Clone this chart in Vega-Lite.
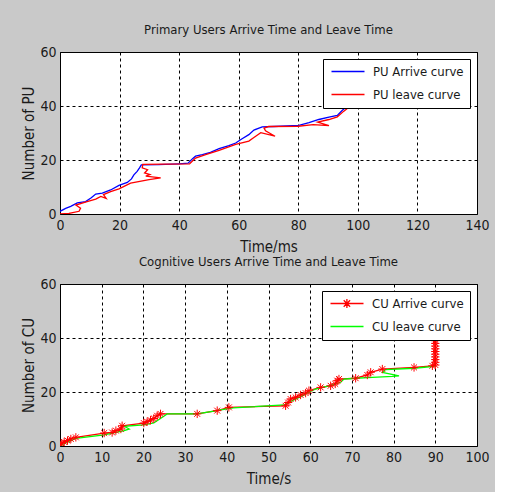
{
  "$schema": "https://vega.github.io/schema/vega-lite/v6.json",
  "background": "#c9c9c9",
  "padding": {"left": 21, "top": 23, "right": 5, "bottom": 5},
  "config": {
    "font": "Liberation Sans Narrow, DejaVu Sans Condensed, Liberation Sans, sans-serif",
    "view": {"fill": "white", "stroke": "black", "strokeWidth": 1},
    "axis": {
      "grid": true, "gridColor": "black", "gridDash": [3, 3], "gridOpacity": 1, "gridWidth": 1,
      "domain": false, "ticks": false, "tickSize": 0,
      "labelFontSize": 14, "labelColor": "#1a1a1a", "labelPadding": 4,
      "labelFlush": false, "labelOverlap": false,
      "titleFontSize": 15, "titleFontWeight": "normal", "titleColor": "#1a1a1a", "titlePadding": 5
    },
    "axisX": {"titlePadding": 7},
    "axisY": {"titlePadding": 3},
    "title": {"fontSize": 13, "fontWeight": "normal", "color": "#1a1a1a", "offset": 8},
    "legend": {
      "orient": "top-right", "offset": 7, "fillColor": "white", "strokeColor": "black",
      "padding": 6, "labelFontSize": 13, "labelColor": "#1a1a1a",
      "symbolType": "M-1,0L7.25,0", "symbolSize": 64, "symbolStrokeWidth": 1.3,
      "symbolOffset": 0, "labelOffset": 31, "rowPadding": 9
    },
    "concat": {"spacing": 0}
  },
  "resolve": {"scale": {"color": "independent"}, "legend": {"color": "independent"}},
  "datasets": {
    "pu": [
      {"s": "PU Arrive curve", "i": 0, "t": 0, "n": 1},
      {"s": "PU Arrive curve", "i": 1, "t": 1.9, "n": 2.1},
      {"s": "PU Arrive curve", "i": 2, "t": 3.6, "n": 2.8},
      {"s": "PU Arrive curve", "i": 3, "t": 5.8, "n": 4.1},
      {"s": "PU Arrive curve", "i": 4, "t": 8.6, "n": 4.6},
      {"s": "PU Arrive curve", "i": 5, "t": 10.5, "n": 6.0},
      {"s": "PU Arrive curve", "i": 6, "t": 12, "n": 7.4},
      {"s": "PU Arrive curve", "i": 7, "t": 14.2, "n": 7.7},
      {"s": "PU Arrive curve", "i": 8, "t": 17, "n": 8.9},
      {"s": "PU Arrive curve", "i": 9, "t": 19.8, "n": 10.6},
      {"s": "PU Arrive curve", "i": 10, "t": 22.6, "n": 11.7},
      {"s": "PU Arrive curve", "i": 11, "t": 24.0, "n": 13.0},
      {"s": "PU Arrive curve", "i": 12, "t": 24.8, "n": 14.5},
      {"s": "PU Arrive curve", "i": 13, "t": 25.9, "n": 15.8},
      {"s": "PU Arrive curve", "i": 14, "t": 26.7, "n": 17.1},
      {"s": "PU Arrive curve", "i": 15, "t": 27.3, "n": 18.2},
      {"s": "PU Arrive curve", "i": 16, "t": 33, "n": 18.3},
      {"s": "PU Arrive curve", "i": 17, "t": 40, "n": 18.6},
      {"s": "PU Arrive curve", "i": 18, "t": 43.0, "n": 18.8},
      {"s": "PU Arrive curve", "i": 19, "t": 44.5, "n": 20.5},
      {"s": "PU Arrive curve", "i": 20, "t": 45.5, "n": 21.4},
      {"s": "PU Arrive curve", "i": 21, "t": 47.8, "n": 22.0},
      {"s": "PU Arrive curve", "i": 22, "t": 50.5, "n": 22.8},
      {"s": "PU Arrive curve", "i": 23, "t": 53.4, "n": 24.2},
      {"s": "PU Arrive curve", "i": 24, "t": 56.7, "n": 25.3},
      {"s": "PU Arrive curve", "i": 25, "t": 59, "n": 26.3},
      {"s": "PU Arrive curve", "i": 26, "t": 61, "n": 27.8},
      {"s": "PU Arrive curve", "i": 27, "t": 63.4, "n": 29.4},
      {"s": "PU Arrive curve", "i": 28, "t": 65.1, "n": 31.1},
      {"s": "PU Arrive curve", "i": 29, "t": 67.9, "n": 32.3},
      {"s": "PU Arrive curve", "i": 30, "t": 71.8, "n": 32.4},
      {"s": "PU Arrive curve", "i": 31, "t": 80.2, "n": 32.8},
      {"s": "PU Arrive curve", "i": 32, "t": 83.6, "n": 33.8},
      {"s": "PU Arrive curve", "i": 33, "t": 86.9, "n": 35.0},
      {"s": "PU Arrive curve", "i": 34, "t": 90.3, "n": 35.9},
      {"s": "PU Arrive curve", "i": 35, "t": 93.1, "n": 36.5},
      {"s": "PU Arrive curve", "i": 36, "t": 94.8, "n": 38.4},
      {"s": "PU Arrive curve", "i": 37, "t": 95.9, "n": 39.4},
      {"s": "PU Arrive curve", "i": 38, "t": 97.5, "n": 41},
      {"s": "PU leave curve", "i": 0, "t": 0, "n": 0},
      {"s": "PU leave curve", "i": 1, "t": 3, "n": 0.2},
      {"s": "PU leave curve", "i": 2, "t": 6.4, "n": 1.0},
      {"s": "PU leave curve", "i": 3, "t": 6.9, "n": 2.1},
      {"s": "PU leave curve", "i": 4, "t": 5.3, "n": 3.3},
      {"s": "PU leave curve", "i": 5, "t": 9.1, "n": 4.6},
      {"s": "PU leave curve", "i": 6, "t": 12, "n": 5.5},
      {"s": "PU leave curve", "i": 7, "t": 13.7, "n": 6.5},
      {"s": "PU leave curve", "i": 8, "t": 15.5, "n": 5.8},
      {"s": "PU leave curve", "i": 9, "t": 14.6, "n": 7.2},
      {"s": "PU leave curve", "i": 10, "t": 17, "n": 8.3},
      {"s": "PU leave curve", "i": 11, "t": 19.8, "n": 9.3},
      {"s": "PU leave curve", "i": 12, "t": 21.5, "n": 10.2},
      {"s": "PU leave curve", "i": 13, "t": 23.7, "n": 11.4},
      {"s": "PU leave curve", "i": 14, "t": 29.9, "n": 12.7},
      {"s": "PU leave curve", "i": 15, "t": 33.8, "n": 13.4},
      {"s": "PU leave curve", "i": 16, "t": 28.8, "n": 14.0},
      {"s": "PU leave curve", "i": 17, "t": 30.2, "n": 14.6},
      {"s": "PU leave curve", "i": 18, "t": 28.4, "n": 15.2},
      {"s": "PU leave curve", "i": 19, "t": 29.4, "n": 16.4},
      {"s": "PU leave curve", "i": 20, "t": 27.6, "n": 17.1},
      {"s": "PU leave curve", "i": 21, "t": 27.8, "n": 18.4},
      {"s": "PU leave curve", "i": 22, "t": 35, "n": 18.5},
      {"s": "PU leave curve", "i": 23, "t": 43.5, "n": 18.6},
      {"s": "PU leave curve", "i": 24, "t": 45.5, "n": 20.7},
      {"s": "PU leave curve", "i": 25, "t": 48.9, "n": 22.0},
      {"s": "PU leave curve", "i": 26, "t": 53.4, "n": 23.6},
      {"s": "PU leave curve", "i": 27, "t": 59, "n": 25.8},
      {"s": "PU leave curve", "i": 28, "t": 63.4, "n": 27.0},
      {"s": "PU leave curve", "i": 29, "t": 65.7, "n": 28.8},
      {"s": "PU leave curve", "i": 30, "t": 67.4, "n": 30.1},
      {"s": "PU leave curve", "i": 31, "t": 72.2, "n": 28.8},
      {"s": "PU leave curve", "i": 32, "t": 69, "n": 30.8},
      {"s": "PU leave curve", "i": 33, "t": 68.5, "n": 31.8},
      {"s": "PU leave curve", "i": 34, "t": 70, "n": 32.4},
      {"s": "PU leave curve", "i": 35, "t": 80, "n": 32.5},
      {"s": "PU leave curve", "i": 36, "t": 85, "n": 33.1},
      {"s": "PU leave curve", "i": 37, "t": 90.3, "n": 32.7},
      {"s": "PU leave curve", "i": 38, "t": 86.5, "n": 34.0},
      {"s": "PU leave curve", "i": 39, "t": 90.3, "n": 35.0},
      {"s": "PU leave curve", "i": 40, "t": 93.1, "n": 36.0},
      {"s": "PU leave curve", "i": 41, "t": 95.3, "n": 38.1},
      {"s": "PU leave curve", "i": 42, "t": 97.5, "n": 40}
    ],
    "cu": [
      {"s": "CU Arrive curve", "i": 0, "t": 0, "n": 0},
      {"s": "CU Arrive curve", "i": 1, "t": 0.3, "n": 1},
      {"s": "CU Arrive curve", "i": 2, "t": 1.0, "n": 1.5},
      {"s": "CU Arrive curve", "i": 3, "t": 1.8, "n": 2},
      {"s": "CU Arrive curve", "i": 4, "t": 2.6, "n": 2.6},
      {"s": "CU Arrive curve", "i": 5, "t": 3.8, "n": 3.2},
      {"s": "CU Arrive curve", "i": 6, "t": 10.6, "n": 4.8},
      {"s": "CU Arrive curve", "i": 7, "t": 12.5, "n": 5.0},
      {"s": "CU Arrive curve", "i": 8, "t": 13.4, "n": 5.7},
      {"s": "CU Arrive curve", "i": 9, "t": 14.6, "n": 6.3},
      {"s": "CU Arrive curve", "i": 10, "t": 14.9, "n": 7.5},
      {"s": "CU Arrive curve", "i": 11, "t": 20.1, "n": 8.5},
      {"s": "CU Arrive curve", "i": 12, "t": 20.9, "n": 9.0},
      {"s": "CU Arrive curve", "i": 13, "t": 21.7, "n": 9.6},
      {"s": "CU Arrive curve", "i": 14, "t": 22.5, "n": 10.2},
      {"s": "CU Arrive curve", "i": 15, "t": 23.3, "n": 11.2},
      {"s": "CU Arrive curve", "i": 16, "t": 24.1, "n": 11.9},
      {"s": "CU Arrive curve", "i": 17, "t": 32.9, "n": 11.9},
      {"s": "CU Arrive curve", "i": 18, "t": 37.7, "n": 13.1},
      {"s": "CU Arrive curve", "i": 19, "t": 40.5, "n": 14.3},
      {"s": "CU Arrive curve", "i": 20, "t": 54.1, "n": 14.9},
      {"s": "CU Arrive curve", "i": 21, "t": 54.7, "n": 16.1},
      {"s": "CU Arrive curve", "i": 22, "t": 55.3, "n": 17.4},
      {"s": "CU Arrive curve", "i": 23, "t": 56.5, "n": 18.0},
      {"s": "CU Arrive curve", "i": 24, "t": 57.7, "n": 18.9},
      {"s": "CU Arrive curve", "i": 25, "t": 58.9, "n": 19.6},
      {"s": "CU Arrive curve", "i": 26, "t": 59.7, "n": 20.5},
      {"s": "CU Arrive curve", "i": 27, "t": 62.5, "n": 21.7},
      {"s": "CU Arrive curve", "i": 28, "t": 64.9, "n": 22.3},
      {"s": "CU Arrive curve", "i": 29, "t": 66.0, "n": 23.0},
      {"s": "CU Arrive curve", "i": 30, "t": 66.5, "n": 24.2},
      {"s": "CU Arrive curve", "i": 31, "t": 66.9, "n": 24.8},
      {"s": "CU Arrive curve", "i": 32, "t": 70.9, "n": 25.1},
      {"s": "CU Arrive curve", "i": 33, "t": 73.7, "n": 26.3},
      {"s": "CU Arrive curve", "i": 34, "t": 74.5, "n": 27.3},
      {"s": "CU Arrive curve", "i": 35, "t": 77.3, "n": 28.5},
      {"s": "CU Arrive curve", "i": 36, "t": 84.9, "n": 29.1},
      {"s": "CU Arrive curve", "i": 37, "t": 89.3, "n": 29.7},
      {"s": "CU Arrive curve", "i": 38, "t": 90, "n": 30},
      {"s": "CU Arrive curve", "i": 39, "t": 90, "n": 31},
      {"s": "CU Arrive curve", "i": 40, "t": 90, "n": 32},
      {"s": "CU Arrive curve", "i": 41, "t": 90, "n": 33},
      {"s": "CU Arrive curve", "i": 42, "t": 90, "n": 34},
      {"s": "CU Arrive curve", "i": 43, "t": 90, "n": 35},
      {"s": "CU Arrive curve", "i": 44, "t": 90, "n": 36},
      {"s": "CU Arrive curve", "i": 45, "t": 90, "n": 37},
      {"s": "CU Arrive curve", "i": 46, "t": 90, "n": 38},
      {"s": "CU Arrive curve", "i": 47, "t": 90, "n": 39},
      {"s": "CU leave curve", "i": 0, "t": 0, "n": 0},
      {"s": "CU leave curve", "i": 1, "t": 1.5, "n": 1.2},
      {"s": "CU leave curve", "i": 2, "t": 3.8, "n": 2.8},
      {"s": "CU leave curve", "i": 3, "t": 10.6, "n": 4.1},
      {"s": "CU leave curve", "i": 4, "t": 15.4, "n": 5.7},
      {"s": "CU leave curve", "i": 5, "t": 16.6, "n": 6.3},
      {"s": "CU leave curve", "i": 6, "t": 15.4, "n": 7.3},
      {"s": "CU leave curve", "i": 7, "t": 20.1, "n": 7.8},
      {"s": "CU leave curve", "i": 8, "t": 22.5, "n": 8.6},
      {"s": "CU leave curve", "i": 9, "t": 24.1, "n": 10.2},
      {"s": "CU leave curve", "i": 10, "t": 25.7, "n": 11.9},
      {"s": "CU leave curve", "i": 11, "t": 32.9, "n": 11.9},
      {"s": "CU leave curve", "i": 12, "t": 41.5, "n": 14.1},
      {"s": "CU leave curve", "i": 13, "t": 53.8, "n": 15.2},
      {"s": "CU leave curve", "i": 14, "t": 55.7, "n": 16.8},
      {"s": "CU leave curve", "i": 15, "t": 58, "n": 18.5},
      {"s": "CU leave curve", "i": 16, "t": 59.7, "n": 19.9},
      {"s": "CU leave curve", "i": 17, "t": 61.3, "n": 21.1},
      {"s": "CU leave curve", "i": 18, "t": 64.5, "n": 22.3},
      {"s": "CU leave curve", "i": 19, "t": 67.3, "n": 23.6},
      {"s": "CU leave curve", "i": 20, "t": 68.1, "n": 24.8},
      {"s": "CU leave curve", "i": 21, "t": 70.9, "n": 25.1},
      {"s": "CU leave curve", "i": 22, "t": 74.9, "n": 25.4},
      {"s": "CU leave curve", "i": 23, "t": 79.7, "n": 25.8},
      {"s": "CU leave curve", "i": 24, "t": 81.3, "n": 26.0},
      {"s": "CU leave curve", "i": 25, "t": 77.3, "n": 27.3},
      {"s": "CU leave curve", "i": 26, "t": 78.1, "n": 28.3},
      {"s": "CU leave curve", "i": 27, "t": 84.9, "n": 28.8},
      {"s": "CU leave curve", "i": 28, "t": 89.7, "n": 29.5},
      {"s": "CU leave curve", "i": 29, "t": 90, "n": 29.8}
    ]
  },
  "vconcat": [
    {
      "width": 417, "height": 162,
      "title": "Primary Users Arrive Time and Leave Time",
      "data": {"name": "pu"},
      "mark": {"type": "line", "strokeWidth": 1.3, "clip": true},
      "encoding": {
        "x": {"field": "t", "type": "quantitative", "scale": {"domain": [0, 140], "nice": false},
              "axis": {"values": [0, 20, 40, 60, 80, 100, 120, 140], "title": "Time/ms"}},
        "y": {"field": "n", "type": "quantitative", "scale": {"domain": [0, 60], "nice": false},
              "axis": {"values": [0, 20, 40, 60], "title": "Number of PU"}},
        "order": {"field": "i", "type": "quantitative"},
        "color": {"field": "s", "type": "nominal",
                  "scale": {"domain": ["PU Arrive curve", "PU leave curve"], "range": ["#0000ff", "#ff0000"]},
                  "legend": {"title": null, "encode": {"symbols": {"update": {"fill": {"value": "transparent"}}}}}}
      }
    },
    {
      "width": 417, "height": 162,
      "title": "Cognitive Users Arrive Time and Leave Time",
      "data": {"name": "cu"},
      "encoding": {
        "x": {"field": "t", "type": "quantitative", "scale": {"domain": [0, 100], "nice": false},
              "axis": {"values": [0, 10, 20, 30, 40, 50, 60, 70, 80, 90, 100], "title": "Time/s"}},
        "y": {"field": "n", "type": "quantitative", "scale": {"domain": [0, 60], "nice": false},
              "axis": {"values": [0, 20, 40, 60], "title": "Number of CU"}},
        "color": {"field": "s", "type": "nominal",
                  "scale": {"domain": ["CU Arrive curve", "CU leave curve"], "range": ["#ff0000", "#00ff00"]},
                  "legend": {"title": null, "encode": {"symbols": {"update": {
                    "fill": {"value": "transparent"},
                    "shape": {"signal": "datum.value === 'CU Arrive curve' ? 'M-1,0L7.25,0M3.1,-1.1L3.1,1.1M2,0L4.2,0M2.3,-0.8L3.9,0.8M2.3,0.8L3.9,-0.8' : 'M-1,0L7.25,0'"}}}}}}
      },
      "layer": [
        {
          "mark": {"type": "line", "strokeWidth": 1.3, "clip": true},
          "encoding": {"order": {"field": "i", "type": "quantitative"}}
        },
        {
          "transform": [{"filter": "datum.s === 'CU Arrive curve'"}],
          "mark": {"type": "point", "shape": "M-1,0L1,0M0,-1L0,1M-0.7,-0.7L0.7,0.7M-0.7,0.7L0.7,-0.7",
                   "filled": false, "size": 70, "strokeWidth": 1, "opacity": 1, "clip": true}
        }
      ]
    }
  ]
}
